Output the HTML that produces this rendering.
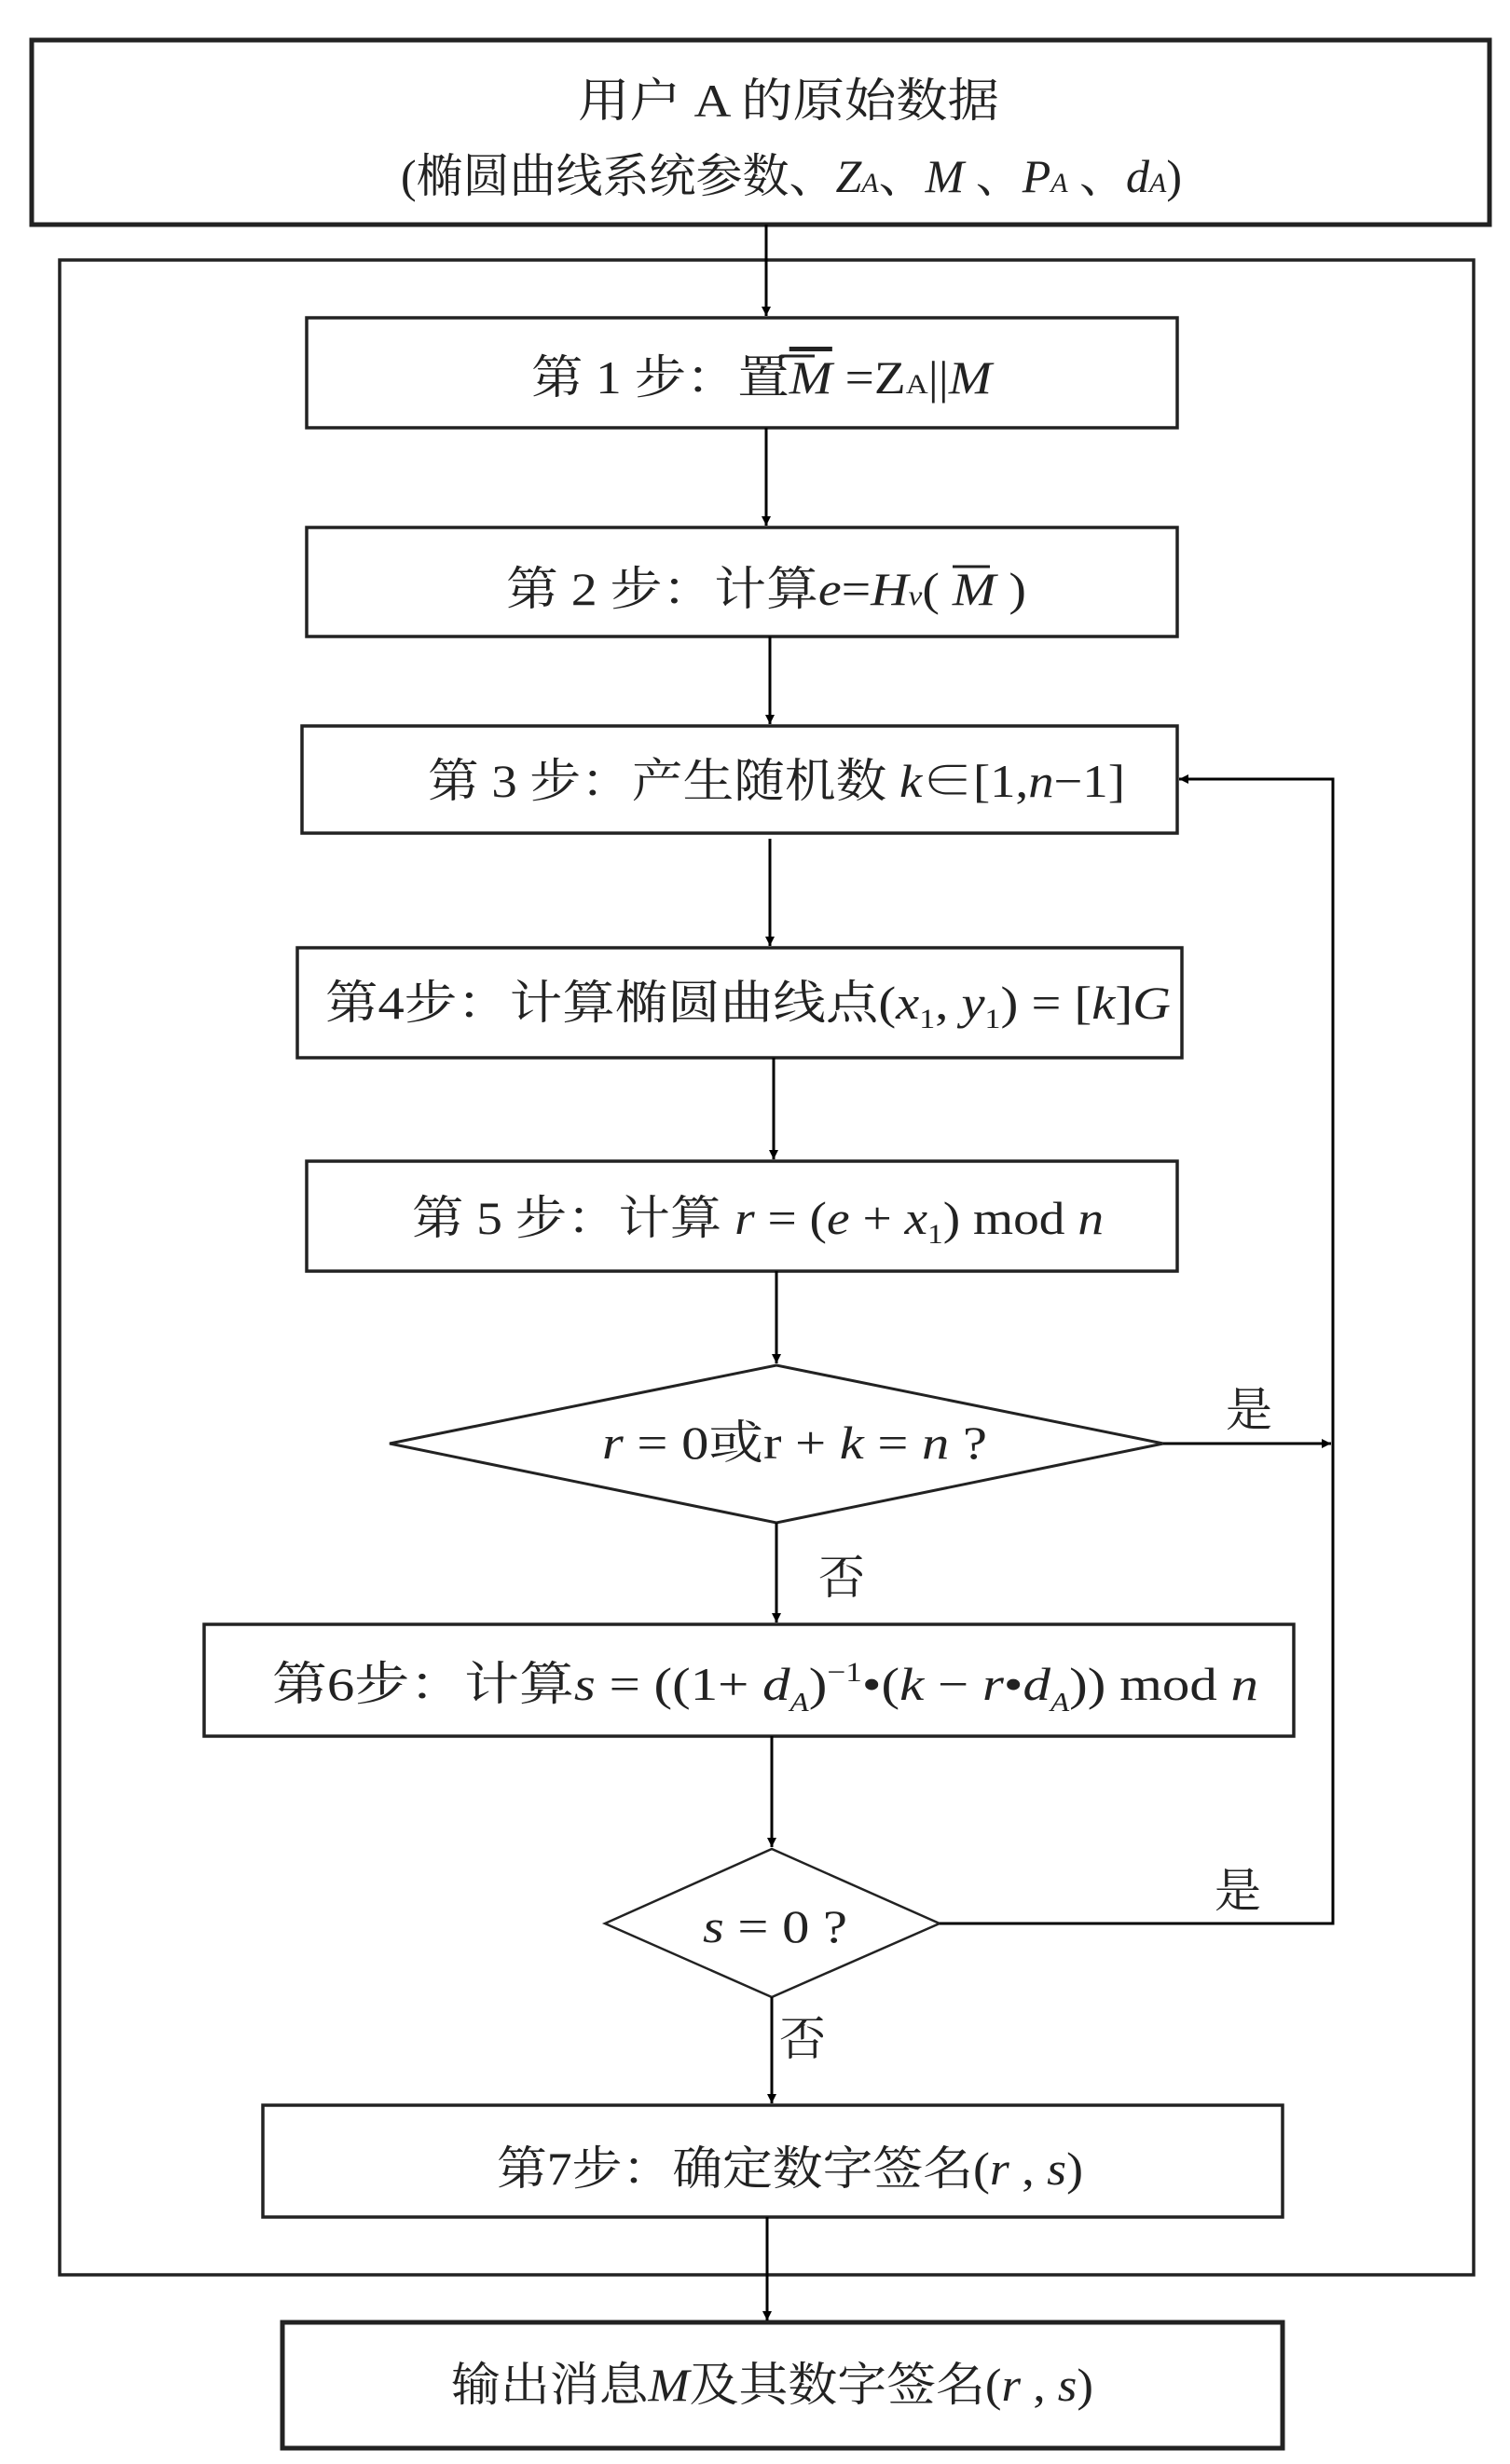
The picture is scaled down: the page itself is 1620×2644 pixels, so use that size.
<!DOCTYPE html>
<html><head><meta charset="utf-8"><style>
html,body{margin:0;padding:0;background:#fff;}
svg{display:block;}
text{font-family:"Liberation Serif","Noto Serif CJK SC",serif;fill:#222;}
</style></head><body>
<svg width="1620" height="2644" viewBox="0 0 1620 2644" xmlns="http://www.w3.org/2000/svg">
<defs>
<marker id="a" viewBox="0 0 10 10" refX="10" refY="5" markerWidth="10" markerHeight="10" markerUnits="userSpaceOnUse" orient="auto"><path d="M0,0 L10,5 L0,10 z" fill="#000"/></marker>
</defs>
<g fill="none" stroke="#222">
<rect x="34" y="43" width="1564" height="198" stroke-width="5"/>
<rect x="64" y="279" width="1517" height="2162" stroke-width="3.5"/>
<rect x="329" y="341" width="934" height="118" stroke-width="3.5"/>
<rect x="329" y="566" width="934" height="117" stroke-width="3.5"/>
<rect x="324" y="779" width="939" height="115" stroke-width="3.5"/>
<rect x="319" y="1017" width="949" height="118" stroke-width="3.5"/>
<rect x="329" y="1246" width="934" height="118" stroke-width="3.5"/>
<polygon points="418,1549 833,1465 1248,1549 833,1634" stroke-width="3"/>
<rect x="219" y="1743" width="1169" height="120" stroke-width="3.5"/>
<polygon points="649,2064 828,1984 1008,2064 828,2143" stroke-width="2.5"/>
<rect x="282" y="2259" width="1094" height="120" stroke-width="3.5"/>
<rect x="303" y="2492" width="1073" height="135" stroke-width="5"/>
</g>
<g stroke="#000" stroke-width="3" fill="none">
<line x1="822" y1="241" x2="822" y2="339" marker-end="url(#a)"/>
<line x1="822" y1="459" x2="822" y2="564" marker-end="url(#a)"/>
<line x1="826" y1="683" x2="826" y2="777" marker-end="url(#a)"/>
<line x1="826" y1="900" x2="826" y2="1015" marker-end="url(#a)"/>
<line x1="830" y1="1135" x2="830" y2="1244" marker-end="url(#a)"/>
<line x1="833" y1="1364" x2="833" y2="1463" marker-end="url(#a)"/>
<line x1="833" y1="1634" x2="833" y2="1741" marker-end="url(#a)"/>
<line x1="828" y1="1863" x2="828" y2="1982" marker-end="url(#a)"/>
<line x1="828" y1="2143" x2="828" y2="2257" marker-end="url(#a)"/>
<line x1="823" y1="2379" x2="823" y2="2490" marker-end="url(#a)"/>
<line x1="1248" y1="1549" x2="1428" y2="1549" marker-end="url(#a)"/>
<polyline points="1008,2064 1430,2064 1430,836 1265,836" marker-end="url(#a)"/>
</g>
<g font-size="50">
<text x="620" y="125" textLength="452" lengthAdjust="spacingAndGlyphs">用户 A 的原始数据</text>
<text x="430" y="206" textLength="838" lengthAdjust="spacingAndGlyphs">(椭圆曲线系统参数、<tspan font-style="italic">Z</tspan><tspan font-size="30" font-style="italic">A</tspan>、<tspan font-style="italic">M</tspan> 、<tspan font-style="italic">P</tspan><tspan font-size="30" font-style="italic">A</tspan> 、<tspan font-style="italic">d</tspan><tspan font-size="30" font-style="italic">A</tspan>)</text>
<text x="570" y="422" textLength="494" lengthAdjust="spacingAndGlyphs">第 1 步：置<tspan font-style="italic" text-decoration="overline">M</tspan> =Z<tspan font-size="30">A</tspan>||<tspan font-style="italic">M</tspan></text>
<line x1="838" y1="382" x2="874" y2="382" stroke="#222" stroke-width="3"/>
<text x="543" y="649" textLength="558" lengthAdjust="spacingAndGlyphs">第 2 步：计算<tspan font-style="italic">e</tspan>=<tspan font-style="italic">H</tspan><tspan font-size="30" font-style="italic">v</tspan>( <tspan font-style="italic">M</tspan> )</text>
<line x1="1022" y1="608" x2="1062" y2="608" stroke="#222" stroke-width="3"/>
<text x="459" y="855" textLength="748" lengthAdjust="spacingAndGlyphs">第 3 步：产生随机数 <tspan font-style="italic">k</tspan>∈[1,<tspan font-style="italic">n</tspan>−1]</text>
<text x="349" y="1093" textLength="907" lengthAdjust="spacingAndGlyphs">第4步：计算椭圆曲线点(<tspan font-style="italic">x</tspan><tspan font-size="30" dy="10">1</tspan><tspan dy="-10">, </tspan><tspan font-style="italic">y</tspan><tspan font-size="30" dy="10">1</tspan><tspan dy="-10">) = [</tspan><tspan font-style="italic">k</tspan>]<tspan font-style="italic">G</tspan></text>
<text x="442" y="1324" textLength="742" lengthAdjust="spacingAndGlyphs">第 5 步：计算 <tspan font-style="italic">r</tspan> = (<tspan font-style="italic">e</tspan> + <tspan font-style="italic">x</tspan><tspan font-size="30" dy="10">1</tspan><tspan dy="-10">) mod </tspan><tspan font-style="italic">n</tspan></text>
<text x="646" y="1565" textLength="413" lengthAdjust="spacingAndGlyphs"><tspan font-style="italic">r</tspan> = 0或r + <tspan font-style="italic">k</tspan> = <tspan font-style="italic">n</tspan> ?</text>
<text x="292" y="1824" textLength="1058" lengthAdjust="spacingAndGlyphs">第6步：计算<tspan font-style="italic">s</tspan> = ((1+ <tspan font-style="italic">d</tspan><tspan font-size="28" font-style="italic" dy="12">A</tspan><tspan dy="-12">)</tspan><tspan font-size="30" dy="-20">−1</tspan><tspan dy="20">•(</tspan><tspan font-style="italic">k</tspan> − <tspan font-style="italic">r</tspan>•<tspan font-style="italic">d</tspan><tspan font-size="28" font-style="italic" dy="12">A</tspan><tspan dy="-12">)) mod </tspan><tspan font-style="italic">n</tspan></text>
<text x="754" y="2084" textLength="155" lengthAdjust="spacingAndGlyphs"><tspan font-style="italic">s</tspan> = 0 ?</text>
<text x="533" y="2344" textLength="629" lengthAdjust="spacingAndGlyphs">第7步：确定数字签名(<tspan font-style="italic">r</tspan> , <tspan font-style="italic">s</tspan>)</text>
<text x="484" y="2576" textLength="689" lengthAdjust="spacingAndGlyphs">输出消息<tspan font-style="italic">M</tspan>及其数字签名(<tspan font-style="italic">r</tspan> , <tspan font-style="italic">s</tspan>)</text>
<text x="1315" y="1530">是</text>
<text x="878" y="1710">否</text>
<text x="1303" y="2046">是</text>
<text x="836" y="2205">否</text>
</g>
</svg>
</body></html>
